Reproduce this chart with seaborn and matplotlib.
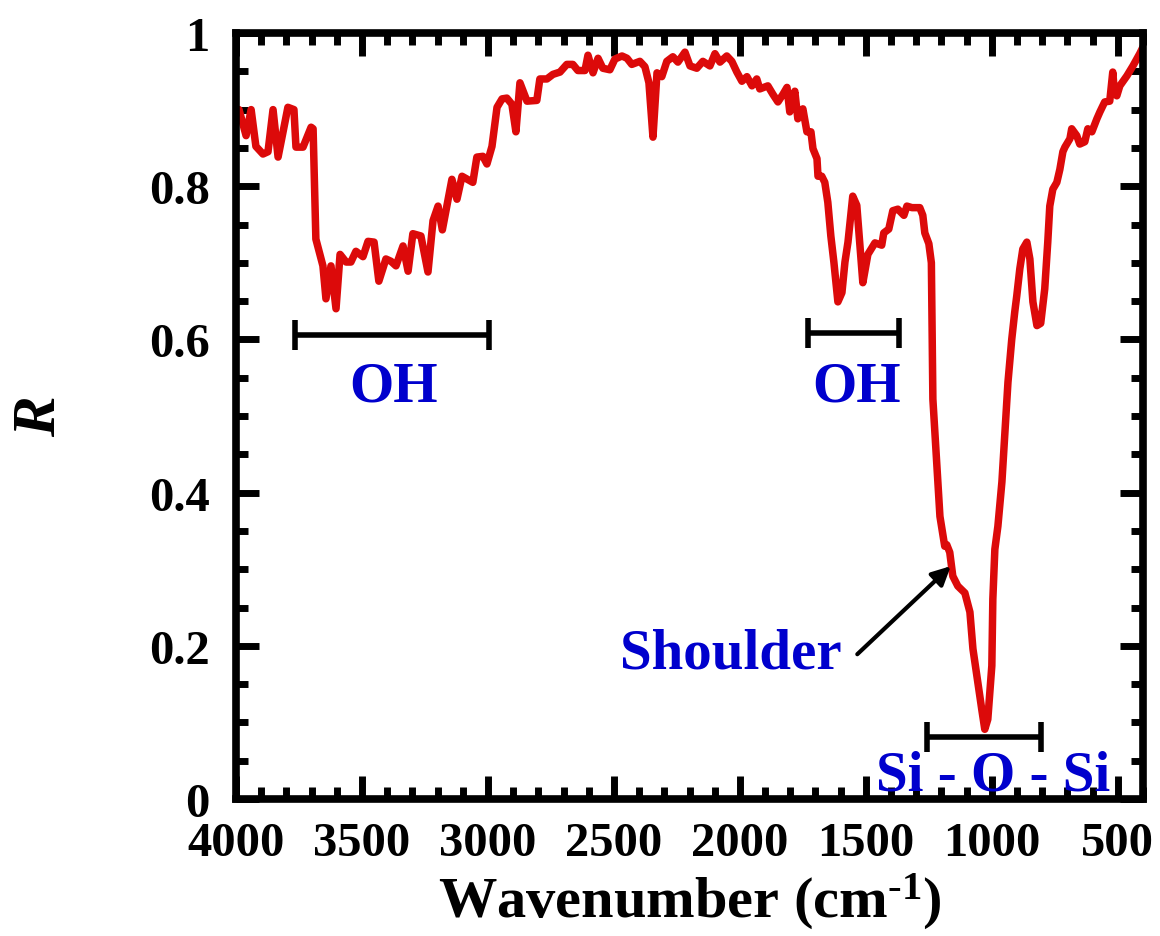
import matplotlib
matplotlib.use("Agg")
import matplotlib.pyplot as plt
from matplotlib.ticker import MultipleLocator, FuncFormatter
import seaborn as sns
import pandas as pd

# ---- data ----
wavenumber = [4000, 3988, 3960, 3940, 3921, 3893, 3873, 3853, 3833, 3794, 3770, 3762, 3734,
              3702, 3694, 3683, 3655, 3643, 3623, 3603, 3587, 3563, 3544, 3524, 3496, 3476,
              3452, 3433, 3405, 3385, 3365, 3337, 3317, 3298, 3266, 3238, 3218, 3198, 3181,
              3143, 3123, 3103, 3060, 3044, 3020, 3004, 2984, 2964, 2944, 2925, 2905, 2889,
              2873, 2845, 2806, 2794, 2766, 2742, 2714, 2687, 2663, 2643, 2615, 2603, 2583,
              2563, 2544, 2516, 2496, 2468, 2448, 2429, 2397, 2377, 2361, 2345, 2329, 2310,
              2290, 2266, 2246, 2218, 2198, 2171, 2147, 2119, 2099, 2079, 2052, 2032, 2012,
              1992, 1972, 1952, 1933, 1921, 1889, 1869, 1849, 1829, 1813, 1802, 1782, 1770,
              1750, 1734, 1718, 1710, 1694, 1690, 1675, 1663, 1651, 1639, 1627, 1611, 1595,
              1583, 1571, 1552, 1536, 1512, 1492, 1464, 1437, 1429, 1409, 1393, 1373, 1349,
              1337, 1317, 1286, 1274, 1266, 1250, 1240, 1234, 1218, 1206, 1187, 1179, 1167,
              1155, 1135, 1107, 1087, 1075, 1056, 1040, 1028, 1016, 1000, 996, 988, 976, 960,
              948, 936, 921, 909, 901, 889, 877, 861, 849, 837, 821, 806, 790, 778, 770, 758,
              742, 730, 718, 710, 690, 683, 663, 651, 631, 619, 603, 583, 571, 552, 532, 520,
              514, 504, 492, 464, 440, 413, 395]
reflectance = [0.894, 0.90, 0.866, 0.90, 0.852, 0.842, 0.845, 0.90, 0.838, 0.903, 0.90, 0.851, 0.851,
               0.877, 0.875, 0.731, 0.696, 0.653, 0.696, 0.64, 0.711, 0.701, 0.701, 0.715, 0.708, 0.728,
               0.727, 0.676, 0.705, 0.702, 0.696, 0.722, 0.689, 0.738, 0.735, 0.688, 0.755, 0.774, 0.743,
               0.809, 0.783, 0.813, 0.805, 0.838, 0.839, 0.829, 0.852, 0.903, 0.914, 0.915, 0.907, 0.871,
               0.935, 0.911, 0.912, 0.94, 0.94, 0.946, 0.949, 0.959, 0.959, 0.951, 0.951, 0.971, 0.948,
               0.967, 0.954, 0.952, 0.966, 0.97, 0.967, 0.959, 0.963, 0.956, 0.935, 0.864, 0.948, 0.943,
               0.963, 0.969, 0.962, 0.975, 0.957, 0.954, 0.963, 0.957, 0.973, 0.962, 0.97, 0.963, 0.949,
               0.937, 0.943, 0.931, 0.94, 0.927, 0.931, 0.92, 0.91, 0.92, 0.929, 0.897, 0.924, 0.888,
               0.901, 0.871, 0.871, 0.849, 0.836, 0.813, 0.813, 0.805, 0.779, 0.735, 0.701, 0.649, 0.661,
               0.701, 0.727, 0.787, 0.775, 0.674, 0.711, 0.726, 0.723, 0.739, 0.744, 0.768, 0.770, 0.762,
               0.774, 0.772, 0.772, 0.762, 0.739, 0.725, 0.70, 0.522, 0.435, 0.369, 0.33, 0.332, 0.322,
               0.291, 0.278, 0.269, 0.244, 0.196, 0.153, 0.117, 0.091, 0.104, 0.174, 0.261, 0.326, 0.356, 0.414,
               0.479, 0.544, 0.60, 0.636, 0.657, 0.692, 0.718, 0.727, 0.705, 0.649, 0.618, 0.621, 0.666, 0.727, 0.774, 0.796,
               0.805, 0.822, 0.845, 0.851, 0.862, 0.875, 0.866, 0.855, 0.858, 0.875, 0.871, 0.888, 0.897, 0.91, 0.911, 0.949,
               0.925, 0.918, 0.931, 0.944, 0.957, 0.973, 0.985]

x_major_ticks = [4000, 3500, 3000, 2500, 2000, 1500, 1000, 500]
x_limits = [4000, 400]
y_limits = [0, 1]

bracket_labels = ["OH", "OH", "Si - O - Si"]
bracket_start = [3766, 1730, 1258]
bracket_end = [2996, 1369, 806]
bracket_y = [0.606, 0.608, 0.081]
label_x = [3375, 1536, 996]
label_y = [0.52, 0.52, 0.013]

shoulder_text = "Shoulder"
shoulder_text_pos = [1595, 0.172]
shoulder_tail = [1534, 0.189]
shoulder_head = [1163, 0.304]

# ---- style ----
sns.set_theme(style="ticks")
plt.rcParams["font.family"] = ["Liberation Serif", "DejaVu Serif"]
plt.rcParams["font.weight"] = "bold"
plt.rcParams["mathtext.fontset"] = "custom"
plt.rcParams["mathtext.rm"] = "Liberation Serif:bold"
plt.rcParams["mathtext.it"] = "Liberation Serif:bold:italic"
plt.rcParams["mathtext.bf"] = "Liberation Serif:bold"
for key in ["text.color", "axes.labelcolor", "xtick.color", "ytick.color", "axes.edgecolor"]:
    plt.rcParams[key] = "black"

red = "#DC0A0A"
blue = "#0000CD"

fig = plt.figure(figsize=(11.6, 9.37), dpi=100)
ax = fig.add_axes([236 / 1160, 1 - 800 / 937, (1143 - 236) / 1160, (800 - 34) / 937])

df = pd.DataFrame({"wavenumber": wavenumber, "R": reflectance})
sns.lineplot(data=df, x="wavenumber", y="R", ax=ax, color=red, linewidth=5.4,
             estimator=None, sort=False, legend=False)

ax.set_xlim(*x_limits)
ax.set_ylim(*y_limits)
ax.set_xticks(x_major_ticks)
ax.xaxis.set_minor_locator(MultipleLocator(100))
ax.yaxis.set_major_locator(MultipleLocator(0.2))
ax.yaxis.set_minor_locator(MultipleLocator(0.05))
ax.yaxis.set_major_formatter(FuncFormatter(
    lambda v, p: "0" if abs(v) < 1e-9 else ("1" if abs(v - 1) < 1e-9 else f"{v:.1f}")))

for s in ax.spines.values():
    s.set_linewidth(5.5)
    s.set_color("black")
ax.tick_params(which="both", direction="in", top=True, right=True, width=5, color="black",
               labelcolor="black")
ax.tick_params(which="major", length=16.5)
ax.tick_params(which="minor", length=8.5)
ax.tick_params(axis="x", which="major", labelsize=35, pad=16)
ax.tick_params(axis="y", which="major", labelsize=35, pad=19)
for lab in ax.get_xticklabels() + ax.get_yticklabels():
    lab.set_fontweight("bold")

ax.set_xlabel("Wavenumber (cm$^{\\text{-1}}$)", fontsize=42, fontweight="bold", labelpad=4,
              color="black")
ax.set_ylabel("$R$", fontsize=44, fontweight="bold", labelpad=58, color="black")

# brackets and labels
for lab, x0, x1, yb, lx, ly in zip(bracket_labels, bracket_start, bracket_end, bracket_y, label_x, label_y):
    ax.errorbar([(x0 + x1) / 2], [yb], xerr=[[abs(x0 - x1) / 2]], fmt="none", ecolor="black",
                elinewidth=4, capsize=11, capthick=4)
    ax.text(lx, ly, lab, color=blue, fontsize=41, fontweight="bold", ha="center", va="baseline")

ax.text(shoulder_text_pos[0], shoulder_text_pos[1], shoulder_text, color=blue, fontsize=41,
        fontweight="bold", ha="right", va="baseline")
ax.annotate("", xy=shoulder_head, xytext=shoulder_tail,
            arrowprops=dict(arrowstyle="-|>", color="black", lw=3, mutation_scale=28,
                            shrinkA=0, shrinkB=0))

fig.savefig("out.png", dpi=100)
